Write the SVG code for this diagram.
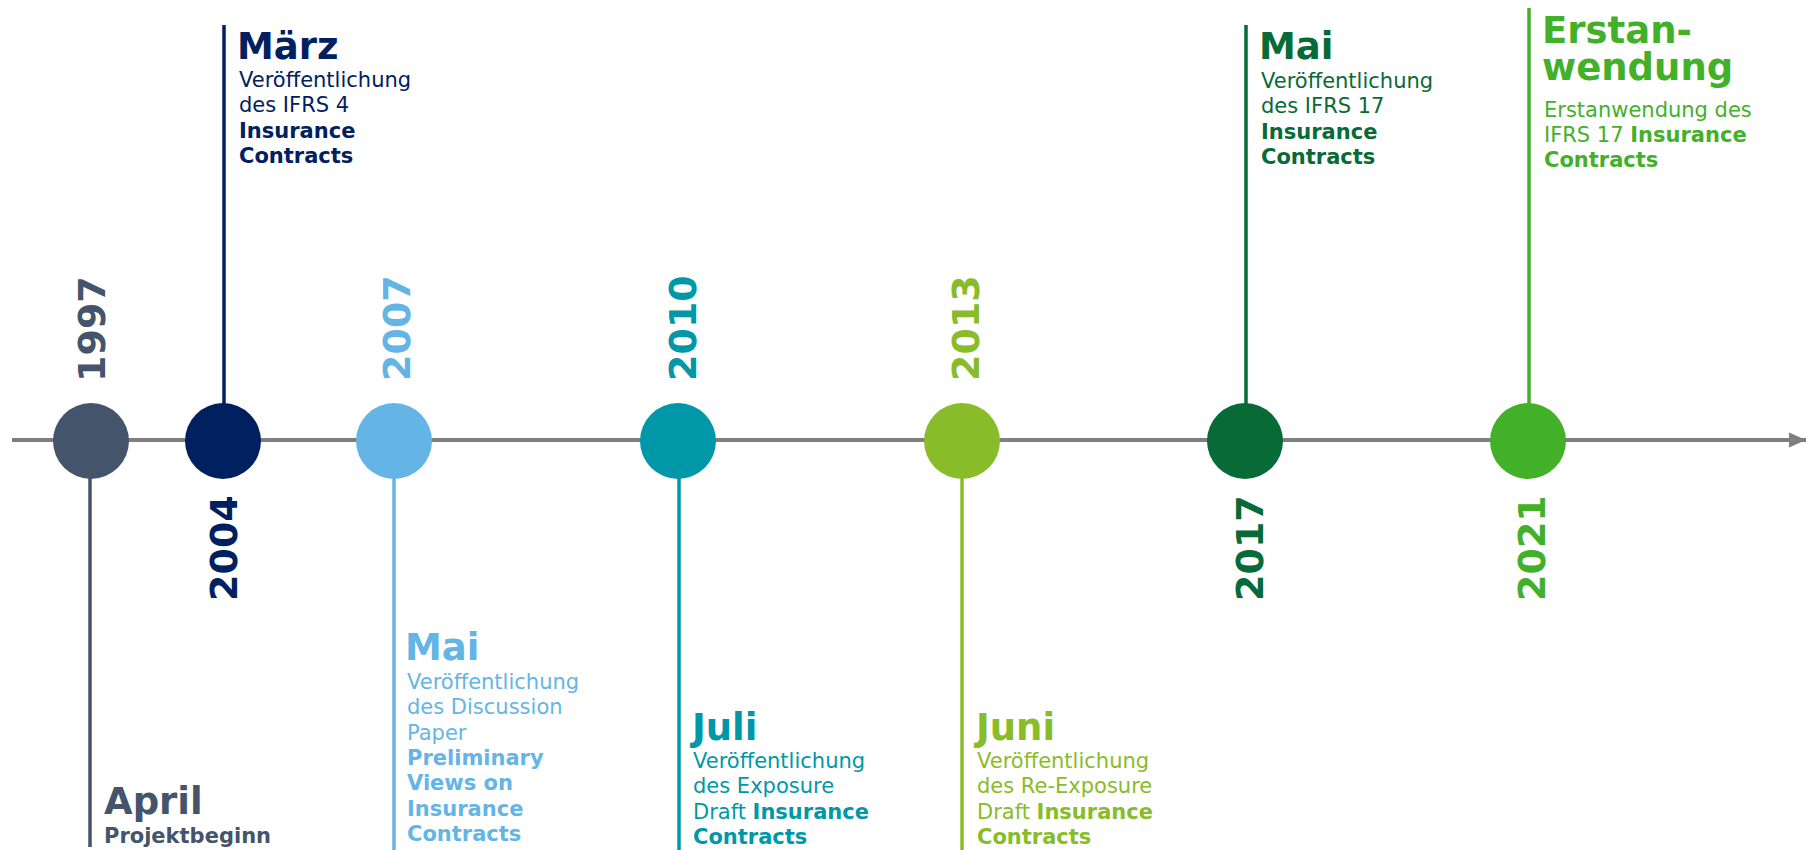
<svg xmlns="http://www.w3.org/2000/svg" width="1806" height="850" viewBox="0 0 1806 850">
  <style>
    text { font-family: "DejaVu Sans", Verdana, "Liberation Sans", sans-serif; }
    .yr { font-size: 38px; font-weight: bold; }
    .ttl { font-size: 37px; font-weight: bold; }
    .body { font-size: 21px; }
    .b { font-weight: bold; }
    .stem { stroke-width: 3.5; fill: none; }
    .axis { stroke: #7F7F7F; stroke-width: 4; fill: none; }
    .c1997 { fill: #44546A; } .s1997 { stroke: #44546A; }
    .c2004 { fill: #002060; } .s2004 { stroke: #002060; }
    .c2007 { fill: #64B5E5; } .s2007 { stroke: #64B5E5; }
    .c2010 { fill: #0098A8; } .s2010 { stroke: #0098A8; }
    .c2013 { fill: #88BC29; } .s2013 { stroke: #88BC29; }
    .c2017 { fill: #076A37; } .s2017 { stroke: #076A37; }
    .c2021 { fill: #43B02A; } .s2021 { stroke: #43B02A; }
  </style>
  <defs>
    <marker id="arrow" markerUnits="userSpaceOnUse" markerWidth="18" markerHeight="16" refX="17" refY="8" orient="auto">
      <path d="M0,0.5 L17,8 L0,15.5 Z" fill="#7F7F7F"/>
    </marker>
  </defs>

  <g id="connectors">
    <line class="axis" x1="12" y1="440" x2="1806" y2="440" marker-end="url(#arrow)"/>
  </g>

  <g id="node-1997">
    <line class="stem s1997" x1="90" y1="441" x2="90" y2="847"/>
    <circle class="c1997" cx="91" cy="441" r="38"/>
    <text class="yr c1997" transform="translate(105,382) rotate(-90)">1997</text>
    <text class="ttl c1997" x="104" y="814">April</text>
    <text class="body b c1997" x="104" y="843">Projektbeginn</text>
  </g>

  <g id="node-2004">
    <line class="stem s2004" x1="224" y1="25" x2="224" y2="441"/>
    <circle class="c2004" cx="223" cy="441" r="38"/>
    <text class="yr c2004" transform="translate(237,601) rotate(-90)">2004</text>
    <text class="ttl c2004" x="237" y="59">März</text>
    <text class="body c2004">
      <tspan x="239" y="87">Veröffentlichung</tspan>
      <tspan x="239" y="112.3">des IFRS 4</tspan>
      <tspan class="b" x="239" y="137.6">Insurance</tspan>
      <tspan class="b" x="239" y="163">Contracts</tspan>
    </text>
  </g>

  <g id="node-2007">
    <line class="stem s2007" x1="394" y1="441" x2="394" y2="850"/>
    <circle class="c2007" cx="394" cy="441" r="38"/>
    <text class="yr c2007" transform="translate(410,381) rotate(-90)">2007</text>
    <text class="ttl c2007" x="405" y="660">Mai</text>
    <text class="body c2007">
      <tspan x="407" y="689">Veröffentlichung</tspan>
      <tspan x="407" y="714.3">des Discussion</tspan>
      <tspan x="407" y="739.6">Paper</tspan>
      <tspan class="b" x="407" y="765">Preliminary</tspan>
      <tspan class="b" x="407" y="790.3">Views on</tspan>
      <tspan class="b" x="407" y="815.6">Insurance</tspan>
      <tspan class="b" x="407" y="841">Contracts</tspan>
    </text>
  </g>

  <g id="node-2010">
    <line class="stem s2010" x1="679" y1="441" x2="679" y2="850"/>
    <circle class="c2010" cx="678" cy="441" r="38"/>
    <text class="yr c2010" transform="translate(696,381) rotate(-90)">2010</text>
    <text class="ttl c2010" x="692" y="740">Juli</text>
    <text class="body c2010">
      <tspan x="693" y="768">Veröffentlichung</tspan>
      <tspan x="693" y="793.3">des Exposure</tspan>
      <tspan x="693" y="818.6">Draft <tspan class="b">Insurance</tspan></tspan>
      <tspan class="b" x="693" y="844">Contracts</tspan>
    </text>
  </g>

  <g id="node-2013">
    <line class="stem s2013" x1="962" y1="441" x2="962" y2="850"/>
    <circle class="c2013" cx="962" cy="441" r="38"/>
    <text class="yr c2013" transform="translate(979,381) rotate(-90)">2013</text>
    <text class="ttl c2013" x="976" y="740">Juni</text>
    <text class="body c2013">
      <tspan x="977" y="768">Veröffentlichung</tspan>
      <tspan x="977" y="793.3">des Re-Exposure</tspan>
      <tspan x="977" y="818.6">Draft <tspan class="b">Insurance</tspan></tspan>
      <tspan class="b" x="977" y="844">Contracts</tspan>
    </text>
  </g>

  <g id="node-2017">
    <line class="stem s2017" x1="1246" y1="25" x2="1246" y2="441"/>
    <circle class="c2017" cx="1245" cy="441" r="38"/>
    <text class="yr c2017" transform="translate(1263,601) rotate(-90)">2017</text>
    <text class="ttl c2017" x="1259" y="59">Mai</text>
    <text class="body c2017">
      <tspan x="1261" y="88">Veröffentlichung</tspan>
      <tspan x="1261" y="113.3">des IFRS 17</tspan>
      <tspan class="b" x="1261" y="138.6">Insurance</tspan>
      <tspan class="b" x="1261" y="164">Contracts</tspan>
    </text>
  </g>

  <g id="node-2021">
    <line class="stem s2021" x1="1529" y1="8" x2="1529" y2="441"/>
    <circle class="c2021" cx="1528" cy="441" r="38"/>
    <text class="yr c2021" transform="translate(1545,601) rotate(-90)">2021</text>
    <text class="ttl c2021" x="1542" y="43">Erstan-</text>
    <text class="ttl c2021" x="1542" y="79.5">wendung</text>
    <text class="body c2021">
      <tspan x="1544" y="117">Erstanwendung des</tspan>
      <tspan x="1544" y="142">IFRS 17 <tspan class="b">Insurance</tspan></tspan>
      <tspan class="b" x="1544" y="167">Contracts</tspan>
    </text>
  </g>
</svg>
